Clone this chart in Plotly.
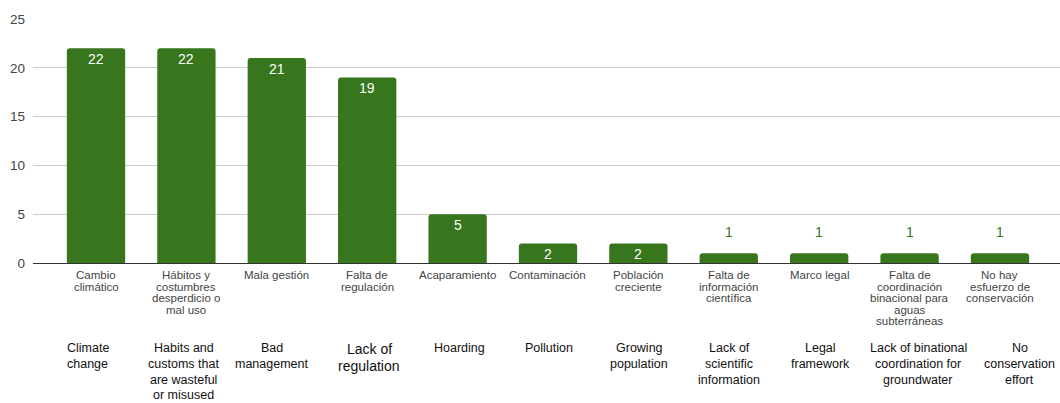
import plotly.graph_objects as go

# Survey counts: perceived causes of the water problem
counts = [22, 22, 21, 19, 5, 2, 2, 1, 1, 1, 1]

labels_es = [
    "Cambio<br>climático",
    "Hábitos y<br>costumbres<br>desperdicio o<br>mal uso",
    "Mala gestión",
    "Falta de<br>regulación",
    "Acaparamiento",
    "Contaminación",
    "Población<br>creciente",
    "Falta de<br>información<br>científica",
    "Marco legal",
    "Falta de<br>coordinación<br>binacional para<br>aguas<br>subterráneas",
    "No hay<br>esfuerzo de<br>conservación",
]

labels_en = [
    "Climate<br>change",
    "Habits and<br>customs that<br>are wasteful<br>or misused",
    "Bad<br>management",
    "Lack of<br>regulation",
    "Hoarding",
    "Pollution",
    "Growing<br>population",
    "Lack of<br>scientific<br>information",
    "Legal<br>framework",
    "Lack of binational<br>coordination for<br>groundwater",
    "No<br>conservation<br>effort",
]

y_ticks = [0, 5, 10, 15, 20, 25]

# ---- styling / layout constants ----
W, H = 1060, 403
M_L, M_R, M_T, M_B = 33, 0, 19, 140
PLOT_H = H - M_T - M_B
BAR_COLOR = "#38761d"
FONT = "Arial, Liberation Sans, sans-serif"
en_xshift = [-8.5, -2.5, -5, 2, 1.5, 1.5, 1, 0.5, 1, 8.5, 20]
en_size = [12.5, 12.5, 12.5, 14, 12.5, 12.5, 12.5, 12.5, 12.5, 12.5, 12.5]


def paper_y(px):
    """Convert a pixel row of the page to paper coordinates."""
    return (H - M_B - px) / PLOT_H


x_idx = list(range(len(counts)))

fig = go.Figure(
    go.Bar(
        x=x_idx,
        y=counts,
        width=0.645,
        marker=dict(color=BAR_COLOR, line=dict(width=0)),
        hoverinfo="skip",
    )
)

annotations = []

# value labels: inside (white) for taller bars, above (green) for the short ones
for i, v in enumerate(counts):
    if v >= 2:
        annotations.append(dict(
            x=i, y=v, xref="x", yref="y", text=str(v), showarrow=False,
            yanchor="middle", yshift=-10.5,
            font=dict(family=FONT, size=14, color="#ffffff"),
        ))
    else:
        annotations.append(dict(
            x=i, y=v, xref="x", yref="y", text=str(v), showarrow=False,
            yanchor="middle", yshift=21.5,
            font=dict(family=FONT, size=14, color=BAR_COLOR),
        ))

# Spanish category labels, one annotation per line for tight spacing
for i, lab in enumerate(labels_es):
    for k, line in enumerate(lab.split("<br>")):
        annotations.append(dict(
            x=i, y=paper_y(275 + 11.5 * k), xref="x", yref="paper",
            text=line, showarrow=False, yanchor="middle", xanchor="center",
            font=dict(family=FONT, size=11.5, color="#444444"),
        ))

# English translations below
for i, lab in enumerate(labels_en):
    step = 15.7 if en_size[i] < 13 else 16.7
    y0 = 348.3 if en_size[i] < 13 else 349
    for k, line in enumerate(lab.split("<br>")):
        annotations.append(dict(
            x=i, y=paper_y(y0 + step * k), xref="x", yref="paper",
            text=line, showarrow=False, yanchor="middle", xanchor="center",
            xshift=en_xshift[i],
            font=dict(family=FONT, size=en_size[i], color="#111111"),
        ))

fig.update_layout(
    width=W, height=H,
    margin=dict(l=M_L, r=M_R, t=M_T, b=M_B, pad=0),
    paper_bgcolor="white", plot_bgcolor="white",
    showlegend=False,
    barcornerradius=3,
    annotations=annotations,
    xaxis=dict(
        range=[-0.697, 10.664],
        showticklabels=False, showgrid=False, zeroline=False,
        ticks="", fixedrange=True,
    ),
    yaxis=dict(
        range=[0, 25], tickvals=y_ticks,
        showgrid=True, gridcolor="#cccccc", gridwidth=1,
        zeroline=True, zerolinecolor="#333333", zerolinewidth=1,
        tickfont=dict(family=FONT, size=13.5, color="#444444"),
        ticks="", ticklabelstandoff=7, fixedrange=True,
    ),
)

fig.write_html("out.html", config={"displayModeBar": False})
